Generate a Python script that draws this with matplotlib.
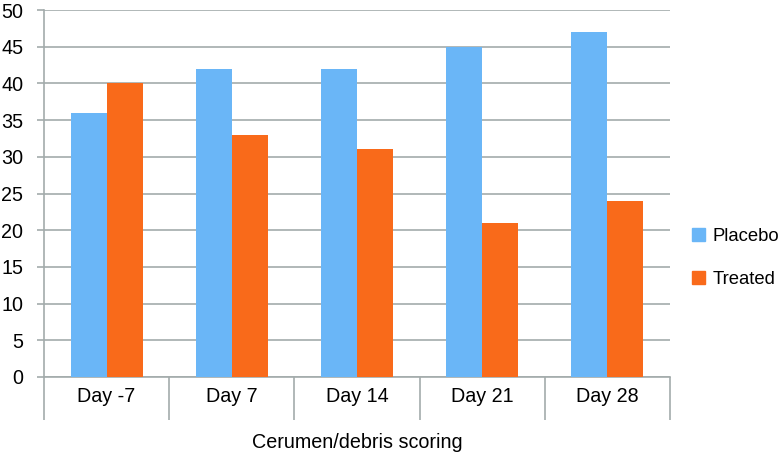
import matplotlib
matplotlib.use("Agg")
import matplotlib.pyplot as plt
import numpy as np
from matplotlib.patches import Patch

categories = ["Day -7", "Day 7", "Day 14", "Day 21", "Day 28"]
placebo = [36, 42, 42, 45, 47]
treated = [40, 33, 31, 21, 24]
yticks = list(range(0, 51, 5))

plt.rcParams['font.family'] = ['Liberation Sans', 'DejaVu Sans']
grid_c = '#A3ABAB'
blue = '#6AB6F7'
orange = '#F96A1A'
fs = 14.2

fig = plt.figure(figsize=(7.83, 4.57), dpi=100)
ax = fig.add_axes([44/783, 1-377/457, (670-44)/783, (377-10)/457])

x = np.arange(len(categories))
w = 0.288
ax.bar(x - w/2, placebo, w, color=blue, zorder=3)
ax.bar(x + w/2, treated, w, color=orange, zorder=3)

ax.set_xlim(-0.5, len(categories) - 0.5)
ax.set_ylim(0, 50)
ax.set_yticks(yticks)
ax.yaxis.grid(True, color=grid_c, linewidth=1.2, zorder=0)
ax.tick_params(axis='y', length=5, color=grid_c, width=1.2, labelsize=fs, pad=10)

ax.set_xticks(x)
ax.set_xticklabels(categories, fontsize=fs)
ax.tick_params(axis='x', which='major', length=0, pad=7)
ax.set_xticks(np.arange(-0.5, len(categories), 1.0), minor=True)
ax.tick_params(axis='x', which='minor', length=31, color=grid_c, width=1.2)

for s in ['top', 'right']:
    ax.spines[s].set_visible(False)
ax.spines['left'].set_color(grid_c)
ax.spines['left'].set_linewidth(1.2)
ax.spines['bottom'].set_color(grid_c)
ax.spines['bottom'].set_linewidth(1.2)

ax.set_xlabel("Cerumen/debris scoring", fontsize=fs, labelpad=6)

handles = [Patch(color=blue, label="Placebo"), Patch(color=orange, label="Treated")]
fig.legend(handles=handles, loc='center left', bbox_to_anchor=(692/783, 1-258/457),
           frameon=False, fontsize=13.3, handlelength=0.72, handleheight=0.72,
           handletextpad=0.4, labelspacing=1.4, borderpad=0, borderaxespad=0)

fig.savefig("out.png", dpi=100)
